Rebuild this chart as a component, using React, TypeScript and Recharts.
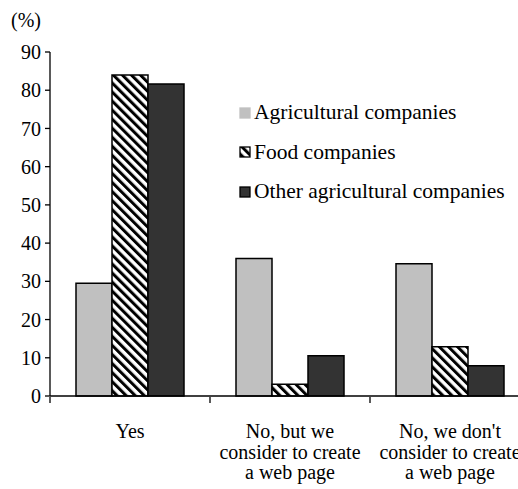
import React from 'react';
import { BarChart, Bar, XAxis, YAxis, Legend } from 'recharts';

const categories = [
  'Yes',
  'No, but we\nconsider to create\na web page',
  "No, we don't\nconsider to create\na web page",
];
const agricultural = [29.5, 36, 34.6];
const food = [84, 3.1, 12.9];
const otherAgricultural = [81.6, 10.5, 7.9];
const seriesNames = ['Agricultural companies', 'Food companies', 'Other agricultural companies'];
const yTicks = [0, 10, 20, 30, 40, 50, 60, 70, 80, 90];

const data = categories.map((name, i) => ({
  name,
  agri: agricultural[i],
  food: food[i],
  other: otherAgricultural[i],
}));

const FONT = 'Liberation Serif, DejaVu Serif, Times, serif';
const GRAY = '#c0c0c0';
const DARK = '#333333';

const Hatch = ({ id }: { id: string }) => (
  <pattern id={id} patternUnits="userSpaceOnUse" width={6.4} height={6.4} patternTransform="rotate(-45)">
    <rect width={6.4} height={6.4} fill="#fff" />
    <rect width={3} height={6.4} fill="#000" />
  </pattern>
);

const CategoryTick = (props: any) => {
  const { x, y, payload } = props;
  const half = payload && payload.offset ? payload.offset : 80;
  const lines = String(payload.value).split('\n');
  return (
    <g>
      <line x1={x - half} x2={x - half} y1={y - 7} y2={y - 1} stroke="#000" strokeWidth={1.3} />
      <text x={x} y={y + 34} textAnchor="middle" style={{ fontFamily: FONT }} fontSize={20} fill="#000">
        {lines.map((l, i) => (
          <tspan key={i} x={x} dy={i === 0 ? 0 : 20.5}>
            {l}
          </tspan>
        ))}
      </text>
    </g>
  );
};

const renderLegend = () => {
  const fills = [GRAY, 'url(#hatchLegend)', DARK];
  return (
    <div style={{ fontFamily: FONT, fontSize: 21.5, color: '#000' }}>
      {seriesNames.map((n, i) => (
        <div key={n} style={{ display: 'flex', alignItems: 'center', height: 39.5, whiteSpace: 'nowrap' }}>
          <svg width={15} height={12}>
            <defs>
              <Hatch id="hatchLegend" />
            </defs>
            <rect x={1} y={1} width={10} height={10} fill={fills[i]} stroke={i === 0 ? GRAY : '#000'} strokeWidth={1.3} />
          </svg>
          <span>{n}</span>
        </div>
      ))}
    </div>
  );
};

export default function App() {
  return (
    <div style={{ position: 'absolute', left: 0, top: 0, width: 518, height: 489, overflow: 'hidden', background: '#fff' }}>
      <div style={{ position: 'absolute', left: 11, top: 9, fontFamily: FONT, fontSize: 20 }}>(%)</div>
      <BarChart width={540} height={489} data={data} margin={{ top: 52, right: 10, bottom: 0, left: 0 }} barGap={0} barSize={36}>
        <defs>
          <Hatch id="hatchBar" />
        </defs>
        <XAxis
          dataKey="name"
          height={93}
          stroke="#000"
          strokeWidth={1.3}
          tickLine={false}
          interval={0}
          tick={<CategoryTick />}
        />
        <YAxis
          width={50}
          domain={[0, 90]}
          ticks={yTicks}
          interval={0}
          stroke="#000"
          strokeWidth={1.3}
          tickSize={5}
          tickMargin={4}
          tick={{ fill: '#000', fontSize: 20, style: { fontFamily: FONT } }}
        />
        <Legend
          layout="vertical"
          verticalAlign="middle"
          align="center"
          content={renderLegend}
          wrapperStyle={{ left: 239, top: 93, width: 290 }}
        />
        <Bar dataKey="agri" name={seriesNames[0]} fill={GRAY} stroke="#000" strokeWidth={1.5} isAnimationActive={false} />
        <Bar dataKey="food" name={seriesNames[1]} fill="url(#hatchBar)" stroke="#000" strokeWidth={1.5} isAnimationActive={false} />
        <Bar dataKey="other" name={seriesNames[2]} fill={DARK} stroke="#000" strokeWidth={1.5} isAnimationActive={false} />
      </BarChart>
    </div>
  );
}
